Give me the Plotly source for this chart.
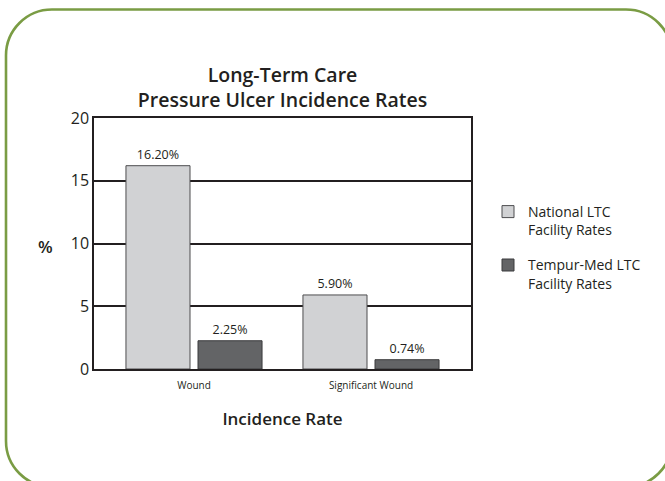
import plotly.graph_objects as go

categories = ["Wound", "Significant Wound"]
national = [16.20, 5.90]
tempur = [2.25, 0.74]
national_labels = ["16.20%", "5.90%"]
tempur_labels = ["2.25%", "0.74%"]
series_names = ["National LTC<br>Facility Rates", "Tempur-Med LTC<br>Facility Rates"]
y_ticks = [0, 5, 10, 15, 20]

W, H = 665, 481
ML, MR, MT, MB = 94, 194, 118, 112
PW, PH = W - ML - MR, H - MT - MB
FONT = "Open Sans"
TXT = "#231f20"

def px2paper(x, y):
    return (x - ML) / PW, (H - MB - y) / PH

fig = go.Figure()
fig.add_trace(go.Bar(
    x=categories, y=national, name=series_names[0], legendgroup="a",
    marker=dict(color="#d1d2d4", line=dict(color="#4d4d4f", width=1)),
    text=national_labels, textposition="outside", cliponaxis=False,
    textfont=dict(size=12.5, color=TXT, family=FONT),
))
fig.add_trace(go.Bar(
    x=categories, y=tempur, name=series_names[1], legendgroup="b",
    marker=dict(color="#636466", line=dict(color="#3a3a3c", width=1)),
    text=tempur_labels, textposition="outside", cliponaxis=False,
    textfont=dict(size=12.5, color=TXT, family=FONT),
))

# rounded border
L, T, R, B, r = 6, 9.5, 672, 487, 46
k = 0.5523 * r
def P(x, y):
    a, b = px2paper(x, y)
    return f"{a:.5f},{b:.5f}"
path = (f"M{P(L + r, T)} L{P(R - r, T)} C{P(R - r + k, T)} {P(R, T + r - k)} {P(R, T + r)} "
        f"L{P(R, B - r)} C{P(R, B - r + k)} {P(R - r + k, B)} {P(R - r, B)} "
        f"L{P(L + r, B)} C{P(L + r - k, B)} {P(L, B - r + k)} {P(L, B - r)} "
        f"L{P(L, T + r)} C{P(L, T + r - k)} {P(L + r - k, T)} {P(L + r, T)} Z")
fig.add_shape(type="path", path=path, xref="paper", yref="paper",
              line=dict(color="#7a9c44", width=2.6), layer="above")

pcx, pcy = px2paper(45, 246)
fig.add_annotation(text="%", x=pcx, y=pcy, xref="paper", yref="paper",
                   xanchor="center", yanchor="middle",
                   showarrow=False, font=dict(size=17, color=TXT, family=FONT, weight=600))

lx, _ = px2paper(488, 0)
_, ly = px2paper(0, 196)
fig.update_layout(
    width=W, height=H,
    margin=dict(l=ML, r=MR, t=MT, b=MB),
    paper_bgcolor="white", plot_bgcolor="white",
    barmode="group", bargap=0.186, bargroupgap=0.111,
    font=dict(family=FONT, color=TXT),
    title=dict(text="Long-Term Care<br>Pressure Ulcer Incidence Rates",
               x=0.5, xref="paper", xanchor="center",
               y=1 - 82 / H, yref="container", yanchor="top",
               font=dict(size=19.5, color=TXT, family=FONT, weight=600)),
    legend=dict(x=lx, y=ly, xanchor="left", yanchor="top",
                font=dict(size=14, color=TXT, family=FONT), valign="top",
                tracegroupgap=14, bgcolor="rgba(0,0,0,0)"),
    showlegend=True,
)
fig.update_xaxes(range=[-0.565, 1.565], showline=True, mirror=True, linecolor="#231f20",
                 linewidth=1.5, showgrid=False, ticks="", tickfont=dict(size=10, color=TXT),
                 ticklabelstandoff=6,
                 title=dict(text="Incidence Rate", standoff=22,
                            font=dict(size=17, color=TXT, family=FONT, weight=600)))
fig.update_yaxes(range=[0, 20], tickvals=y_ticks, showline=True, mirror=True,
                 linecolor="#231f20", linewidth=1.5, showgrid=True, gridcolor="#231f20",
                 gridwidth=1.5, zeroline=False, ticks="", ticklabelstandoff=0,
                 tickfont=dict(size=16, color=TXT))

fig.write_html("out.html", config={"displayModeBar": False},
               post_script="document.body.style.margin='0';")
